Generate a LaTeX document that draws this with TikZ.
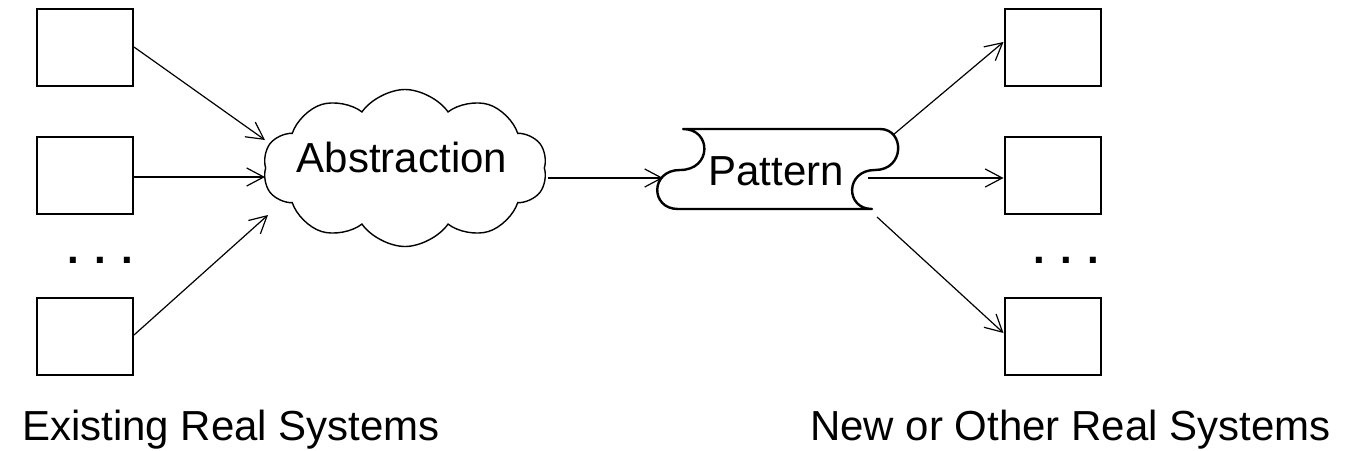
\documentclass[tikz,border=0pt]{standalone}
\usepackage{fontspec}
\setmainfont{Liberation Sans}
\usetikzlibrary{arrows.meta,shapes.symbols}
\begin{document}
\begin{tikzpicture}[x=1pt,y=-1pt,
  sysbox/.style={draw,line width=2pt,minimum width=96pt,minimum height=77pt,inner sep=0pt},
  conn/.style={line width=1.2pt,-{Straight Barb[length=17pt,width=18pt,line width=1.2pt]}},
  bigtext/.style={font=\fontsize{42}{50}\selectfont,inner sep=0pt}]
\useasboundingbox (0,0) rectangle (1347,450);
% left systems
\node[sysbox] (l1) at (85,47) {};
\node[sysbox] (l2) at (85,175) {};
\node[sysbox] (l3) at (85,336.5) {};
\node[bigtext,font=\fontsize{42}{50}\selectfont\bfseries,anchor=base west] (ldots) at (67,263) {. . .};
% right systems
\node[sysbox] (r1) at (1052.5,47) {};
\node[sysbox] (r2) at (1052.5,175) {};
\node[sysbox] (r3) at (1052.5,336.5) {};
\node[bigtext,font=\fontsize{42}{50}\selectfont\bfseries,anchor=base west] (rdots) at (1033,263) {. . .};
% cloud
\node[cloud,draw,line width=1.4pt,cloud puffs=10,cloud puff arc=110,aspect=1.8,
      minimum width=284pt,minimum height=157pt,inner sep=0pt] (cloud) at (405,168) {};
\node[bigtext,anchor=base] (abs) at (402,172) {Abstraction};
% pattern tape
\draw[line width=2.4pt,line join=round] (683,129) .. controls (712,129) and (712,170) .. (680,170)
  .. controls (650,170) and (650,209) .. (678,209) -- (872,209)
  .. controls (845,209) and (845,170) .. (875,170)
  .. controls (905,170) and (905,129) .. (880,129) -- cycle;
\node[bigtext,anchor=base] (pattern) at (776,185) {Pattern};
% connector end points
\coordinate (c1) at (265,140);
\coordinate (c2) at (265,177);
\coordinate (c3) at (268,215);
\coordinate (cout) at (548,178);
\coordinate (pin) at (663,178);
\coordinate (p1) at (893,135);
\coordinate (p2) at (868,178);
\coordinate (p3) at (877,217);
% connectors
\draw[conn] (l1.east |- 0,47) -- (c1);
\draw[conn] (l2.east |- 0,177) -- (c2);
\draw[conn] (l3.east |- 0,335) -- (c3);
\draw[conn] (cout) -- (pin);
\draw[conn] (p1) -- (r1.west |- 0,42);
\draw[conn] (p2) -- (r2.west |- 0,178);
\draw[conn] (p3) -- (r3.west |- 0,333);
% labels
\node[bigtext,anchor=base west] (lexist) at (22,440) {Existing Real Systems};
\node[bigtext,anchor=base west] (lnew) at (810,440) {New or Other Real Systems};
\end{tikzpicture}
\end{document}
